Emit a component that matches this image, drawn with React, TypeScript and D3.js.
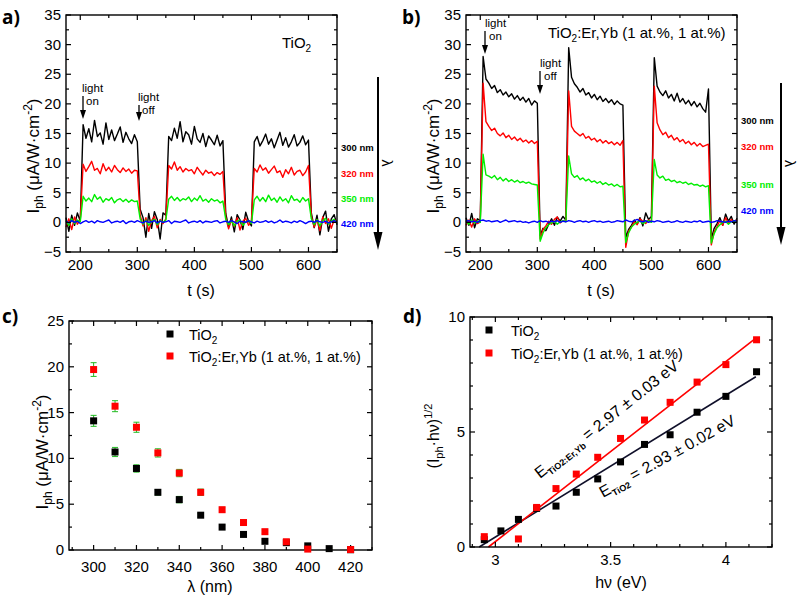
import React from 'react';
import * as d3 from 'd3';

const FONT = "'Liberation Sans', Arial, Helvetica, sans-serif";
const BLACK = '#000000';
const RED = '#ff0000';
const GREEN = '#00ee00';
const BLUE = '#0000ff';

// ---------- panels a/b: time traces (t grid every 5 s, 175..650 s) ----------
const tGrid = d3.range(175, 651, 5);

const a300 = [
  0.8, -1.5, 1.2, -0.5, 1.6, 0.2,
  16.5, 14.2, 15.8, 13.6, 17.2, 14.5, 15.1, 13.2, 16.8, 14.0, 15.6, 13.8, 14.9, 16.1, 13.5, 15.2, 14.1, 13.3, 14.8, 13.6,
  2.2, 0.8, -2.5, 1.5, -1.0, 1.8, 0.5, -2.8, 1.6, 1.2,
  14.5, 13.8, 15.9, 14.2, 17.0, 13.6, 15.3, 14.8, 13.2, 16.2, 14.1, 13.5, 15.0, 12.8, 14.6, 13.9, 13.1, 14.7, 12.9, 13.8,
  1.5, -0.8, 0.9, -1.6, 1.3, 0.4, -1.2, 1.7, 0.2, -0.6,
  13.6, 14.5, 12.9, 13.8, 14.9, 13.2, 14.1, 12.6, 13.9, 15.2, 13.0, 14.3, 12.7, 13.6, 14.8, 12.9, 13.5, 14.6, 13.1, 13.9,
  1.6, -0.9, 1.2, -2.1, 0.8, 1.9, -1.5, 0.6, 1.3, -0.4,
];
const a320 = [
  -0.8, 0.6, -1.2, 0.9, -0.3, 0.4,
  9.8, 8.6, 9.4, 10.3, 8.8, 9.1, 8.2, 9.9, 8.7, 9.3, 8.5, 9.6, 8.9, 8.4, 9.2, 8.6, 9.0, 8.3, 8.8, 8.7,
  1.2, -0.6, 0.8, -1.5, 0.3, 1.0, -0.9, 0.5, -0.2, 0.6,
  9.6, 9.0, 10.2, 8.8, 9.4, 8.5, 9.1, 8.7, 8.9, 8.2, 9.3, 8.6, 8.0, 8.8, 8.3, 8.5, 7.9, 8.4, 8.1, 8.6,
  0.9, -1.1, 0.4, -0.7, 0.8, -1.3, 0.2, 0.7, -0.5, 0.3,
  9.1, 8.5, 9.7, 8.8, 9.2, 8.3, 8.9, 9.5, 8.4, 8.7, 7.6, 8.9, 8.2, 9.3, 8.0, 8.6, 8.8, 7.9, 8.5, 9.6,
  1.1, -0.8, 0.5, -1.4, 0.9, -0.2, 0.6, -1.0, 0.4, 0.2,
];
const a350 = [
  0.3, -0.5, 0.6, -0.2, 0.4, 0.1,
  4.4, 3.6, 4.1, 3.5, 4.7, 3.9, 4.3, 3.4, 4.0, 3.7, 4.2, 3.3, 3.8, 4.0, 3.5, 3.9, 3.4, 3.8, 3.5, 3.6,
  0.6, -0.3, 0.4, -0.5, 0.2, 0.5, -0.4, 0.3, 0.0, 0.4,
  3.9, 4.4, 3.7, 4.2, 3.6, 4.0, 3.8, 4.3, 3.5, 4.1, 3.7, 4.5, 3.6, 3.9, 3.4, 4.0, 3.6, 3.8, 3.3, 3.6,
  0.5, -0.4, 0.3, -0.6, 0.2, 0.4, -0.5, 0.1, 0.3, -0.2,
  3.8, 4.4, 3.6, 4.2, 3.5, 4.6, 3.7, 4.1, 3.4, 4.3, 3.6, 4.0, 3.3, 4.5, 3.7, 3.9, 3.4, 4.2, 3.6, 4.0,
  0.6, -0.4, 0.5, -0.6, 0.3, 0.7, -0.3, 0.2, 0.5, -0.1,
];
const a420 = [
  0.2, -0.1, 0.3, 0.0, 0.2, -0.2, 0.1, 0.3, 0.0, 0.2,
  -0.1, 0.3, 0.1, 0.0, 0.2, 0.4, -0.1, 0.1, 0.2, 0.0,
  0.3, -0.2, 0.1, 0.2, 0.0, 0.3, 0.1, -0.1, 0.2, 0.0,
  0.1, 0.3, -0.1, 0.2, 0.0, 0.1, 0.3, -0.2, 0.2, 0.1,
  0.0, 0.2, 0.4, -0.1, 0.1, 0.2, 0.0, 0.3, -0.1, 0.2,
  0.1, 0.0, 0.2, 0.3, -0.1, 0.1, 0.2, 0.0, 0.3, 0.1,
  -0.2, 0.2, 0.1, 0.0, 0.3, 0.1, -0.1, 0.2, 0.0, 0.1,
  0.3, 0.0, 0.2, -0.1, 0.1, 0.4, 0.0, 0.2, 0.1, -0.1,
  0.2, 0.0, 0.3, 0.1, -0.2, 0.1, 0.2, 0.0, 0.3, 0.1,
  0.0, 0.2, -0.1, 0.1, 0.3, 0.0,
];

const b300 = [
  0.8, -0.5, 1.5, -0.9, 0.6, 0.3,
  28.0, 24.2, 23.5, 22.6, 23.1, 21.9, 22.4, 21.5, 22.0, 21.2, 21.7, 20.8, 21.4, 20.6, 21.1, 20.3, 20.9, 19.8, 20.5, 20.1,
  -2.2, -1.0, -1.4, -0.3, 0.6, -0.5, 0.9, 0.2, 1.0, 0.4,
  29.5, 24.5, 23.4, 22.8, 22.0, 22.6, 21.5, 21.9, 21.0, 21.6, 20.7, 21.3, 20.4, 20.9, 20.2, 20.7, 19.9, 20.5, 20.0, 19.8,
  -2.6, -1.2, -0.5, 0.4, -0.3, 0.8, -0.6, 1.6, 0.5, 1.0,
  27.8, 23.0, 22.0, 21.4, 22.2, 21.0, 21.6, 20.5, 21.8, 20.3, 20.9, 20.0, 20.6, 19.7, 20.4, 19.5, 20.1, 19.2, 18.6, 22.5,
  -2.8, -1.0, -0.2, 0.8, -0.5, 1.4, 0.2, 1.0, -0.3, 0.7,
];
const b320 = [
  -0.5, 0.4, -0.8, 0.6, -0.2, 0.1,
  23.5, 17.0, 16.2, 15.5, 15.9, 15.0, 14.6, 15.1, 14.3, 14.7, 14.0, 14.4, 13.8, 14.2, 13.6, 13.9, 13.4, 13.8, 13.3, 13.7,
  -2.8, -1.2, -0.6, 0.2, -0.3, 0.5, 0.9, -0.1, 0.3, 0.2,
  22.2, 16.2, 15.4, 15.0, 14.6, 15.0, 14.2, 14.5, 13.9, 14.2, 13.6, 14.0, 13.4, 13.8, 13.3, 13.6, 13.1, 13.5, 13.0, 13.8,
  -4.2, -1.5, -0.8, 0.1, -0.4, 0.6, 0.2, -0.2, 0.4, 0.1,
  23.0, 16.8, 15.6, 14.8, 15.2, 14.3, 14.7, 13.9, 14.3, 13.6, 14.0, 13.3, 13.7, 13.1, 13.5, 12.9, 13.3, 12.8, 13.0, 13.2,
  -3.8, -1.6, -0.7, 0.3, -0.5, 0.8, -0.2, 0.5, 0.0, 0.4,
];
const b350 = [
  0.2, -0.3, 0.4, -0.1, 0.2, 0.0,
  11.5, 8.0, 7.8, 7.5, 7.9, 7.2, 7.6, 7.0, 7.4, 6.9, 7.2, 6.8, 7.1, 6.7, 6.9, 6.6, 6.8, 6.5, 6.4, 6.3,
  -3.2, -1.8, -0.9, -0.4, -0.1, 0.2, -0.3, 0.1, 0.3, 0.1,
  11.2, 8.2, 7.6, 7.9, 7.2, 7.5, 7.0, 7.3, 6.8, 7.0, 6.6, 6.9, 6.4, 6.7, 6.3, 6.5, 6.1, 6.4, 6.0, 6.1,
  -3.4, -1.8, -0.8, -0.3, 0.0, 0.2, -0.2, 0.1, 0.3, 0.0,
  10.6, 8.0, 7.5, 7.8, 7.1, 7.3, 6.9, 7.1, 6.7, 6.9, 6.6, 6.8, 6.4, 6.6, 6.3, 6.4, 6.1, 6.3, 6.0, 6.2,
  -3.5, -1.9, -0.9, -0.4, 0.0, 0.2, -0.3, 0.1, 0.2, 0.0,
];
const b420 = [
  0.2, 0.3, 0.1, 0.2, 0.0, 0.3, 0.4, 0.2, 0.3, 0.1,
  0.2, 0.3, 0.0, 0.2, 0.4, 0.1, 0.2, 0.3, 0.1, 0.2,
  0.0, 0.1, -0.1, 0.1, 0.2, 0.0, 0.3, 0.1, 0.2, 0.0,
  0.2, 0.1, 0.3, 0.0, 0.2, 0.1, 0.3, 0.2, 0.0, 0.2,
  0.3, 0.1, 0.2, 0.0, 0.2, 0.3, 0.1, 0.2, 0.0, 0.1,
  0.2, 0.0, 0.1, 0.3, 0.2, 0.1, 0.4, 0.2, 0.1, 0.3,
  0.5, 0.2, 0.1, 0.3, 0.0, 0.2, 0.1, 0.3, 0.2, 0.0,
  0.1, 0.2, 0.0, 0.1, 0.3, 0.1, 0.0, 0.2, 0.1, 0.0,
  0.2, 0.1, 0.3, 0.0, 0.1, 0.2, 0.0, 0.1, 0.3, 0.2,
  0.1, 0.0, 0.2, 0.1, 0.3, 0.2,
];

const traceColors = [BLACK, RED, GREEN, BLUE];
const traceLabels = ['300 nm', '320 nm', '350 nm', '420 nm'];

// ---------- panel c: photocurrent vs wavelength ----------
const lambdaNm = [300, 310, 320, 330, 340, 350, 360, 370, 380, 390, 400, 410, 420];
const cTiO2 = [14.1, 10.7, 8.9, 6.3, 5.5, 3.8, 2.5, 1.7, 0.95, 0.8, 0.45, 0.15, 0.03];
const cTiO2Err = [0.6, 0.5, 0.4, 0.3, 0.35, 0.2, 0.2, 0.15, 0.15, 0.15, 0.1, 0.1, 0.05];
const cErYb = [19.7, 15.7, 13.4, 10.6, 8.4, 6.3, 4.4, 3.0, 2.0, 0.9, 0.1, null, 0.05];
const cErYbErr = [0.75, 0.6, 0.55, 0.45, 0.4, 0.35, 0.25, 0.2, 0.2, 0.15, 0.1, null, 0.05];

// ---------- panel d: Tauc-type plot ----------
const hvTiO2 = [2.952, 3.024, 3.1, 3.179, 3.263, 3.351, 3.444, 3.543, 3.647, 3.758, 3.875, 4.0, 4.133];
const dTiO2 = [0.32, 0.7, 1.2, 1.68, 1.78, 2.38, 2.96, 3.7, 4.46, 4.88, 5.86, 6.55, 7.62];
const hvErYb = [2.952, 3.1, 3.179, 3.263, 3.351, 3.444, 3.543, 3.647, 3.758, 3.875, 4.0, 4.133];
const dErYb = [0.45, 0.35, 1.72, 2.54, 3.17, 3.9, 4.72, 5.52, 6.29, 7.17, 7.93, 9.01];
const fitEg = [2.93, 2.97];
const fitSlope = [6.17, 7.83];
const fitEnd = 4.13;

type Lin = d3.ScaleLinear<number, number>;

function Axes(props: {
  x: Lin; y: Lin; xMaj: number[]; xMin: number[]; yMaj: number[]; yMin: number[];
  xFmt?: (v: number) => string; yFmt?: (v: number) => string; xLabOff: number;
}) {
  const { x, y, xMaj, xMin, yMaj, yMin, xLabOff } = props;
  const xFmt = props.xFmt || ((v: number) => String(v));
  const yFmt = props.yFmt || ((v: number) => String(v));
  const [x0, x1] = x.range();
  const [y0, y1] = y.range(); // y0 = bottom, y1 = top
  const M = 5, m = 3;
  const ticks: JSX.Element[] = [];
  const tk = (key: string, a: number, b: number, c: number, d: number) =>
    ticks.push(<line key={key} x1={a} y1={b} x2={c} y2={d} stroke="#000" strokeWidth={1.2} />);
  xMaj.forEach((v, i) => { const px = x(v); tk('xb' + i, px, y0, px, y0 - M); tk('xt' + i, px, y1, px, y1 + M); });
  xMin.forEach((v, i) => { const px = x(v); tk('xbm' + i, px, y0, px, y0 - m); tk('xtm' + i, px, y1, px, y1 + m); });
  yMaj.forEach((v, i) => { const py = y(v); tk('yl' + i, x0, py, x0 + M, py); tk('yr' + i, x1, py, x1 - M, py); });
  yMin.forEach((v, i) => { const py = y(v); tk('ylm' + i, x0, py, x0 + m, py); tk('yrm' + i, x1, py, x1 - m, py); });
  return (
    <g>
      <rect x={x0} y={y1} width={x1 - x0} height={y0 - y1} fill="none" stroke="#000" strokeWidth={1.4} />
      {ticks}
      {xMaj.map((v, i) => (
        <text key={'xl' + i} x={x(v)} y={y0 + xLabOff} textAnchor="middle" fontSize={15} fontFamily={FONT}>{xFmt(v)}</text>
      ))}
      {yMaj.map((v, i) => (
        <text key={'yl' + i} x={x0 - 5} y={y(v) + 5} textAnchor="end" fontSize={15} fontFamily={FONT}>{yFmt(v).replace('-', '\u2212')}</text>
      ))}
    </g>
  );
}

function IphLabel({ cx, cy }: { cx: number; cy: number }) {
  return (
    <text transform={`translate(${cx},${cy}) rotate(-90)`} textAnchor="middle" fontSize={17} fontFamily={FONT}>
      I<tspan fontSize={12} dy={4}>ph</tspan><tspan dy={-4}> (μA/W·cm</tspan><tspan fontSize={12} dy={-7}>-2</tspan><tspan dy={7}>)</tspan>
    </text>
  );
}

function TracePanel(props: {
  ox: number; series: number[][]; title: JSX.Element; labelYs: number[];
  onTxt: [number, number]; onArrow: [number, number, number];
  offTxt: [number, number]; offArrow: [number, number, number]; letter: string; arrowX: number; arrowTop: number; arrowBot: number;
}) {
  const { ox, series } = props;
  const x = d3.scaleLinear().domain([175, 650]).range([ox + 66, ox + 337]);
  const y = d3.scaleLinear().domain([-5, 35]).range([252, 15]);
  const line = d3.line<number>().x((_, i) => x(tGrid[i])).y((d) => y(d));
  const arrowDown = (ax: number, y1: number, y2: number, key: string) => (
    <g key={key}>
      <line x1={ax} y1={y1} x2={ax} y2={y2 - 7} stroke="#000" strokeWidth={1.3} />
      <polygon points={`${ax - 3},${y2 - 9} ${ax + 3},${y2 - 9} ${ax},${y2}`} fill="#000" />
    </g>
  );
  return (
    <g>
      <text x={ox + 2} y={24} fontSize={19} fontWeight="bold" fontFamily="'Open Sans', sans-serif">{props.letter}</text>
      {series.map((s, i) => (
        <path key={i} d={line(s) || ''} fill="none" stroke={traceColors[i]} strokeWidth={1.4} strokeLinejoin="round" />
      ))}
      <Axes x={x} y={y} xMaj={[200, 300, 400, 500, 600]} xMin={[250, 350, 450, 550, 650]}
        yMaj={d3.range(-5, 36, 5)} yMin={d3.range(-2.5, 33, 5)} xLabOff={18} />
      <IphLabel cx={ox + 39} cy={156} />
      <text x={ox + 201} y={296} textAnchor="middle" fontSize={16} fontFamily={FONT}>t (s)</text>
      {props.title}
      <text x={props.onTxt[0]} y={props.onTxt[1]} fontSize={11.5} fontFamily={FONT}>light</text>
      <text x={props.onTxt[0] + 4} y={props.onTxt[1] + 13} fontSize={11.5} fontFamily={FONT}>on</text>
      {arrowDown(props.onArrow[0], props.onArrow[1], props.onArrow[2], 'on')}
      <text x={props.offTxt[0]} y={props.offTxt[1]} fontSize={11.5} fontFamily={FONT}>light</text>
      <text x={props.offTxt[0] + 4} y={props.offTxt[1] + 13} fontSize={11.5} fontFamily={FONT}>off</text>
      {arrowDown(props.offArrow[0], props.offArrow[1], props.offArrow[2], 'off')}
      {traceLabels.map((t, i) => (
        <text key={t} x={ox + 341} y={props.labelYs[i] + 3.5} fontSize={9.5} fontWeight="bold" fill={traceColors[i]} fontFamily={FONT}>{t}</text>
      ))}
      <line x1={props.arrowX} y1={props.arrowTop} x2={props.arrowX} y2={props.arrowBot - 14} stroke="#000" strokeWidth={2} />
      <polygon points={`${props.arrowX - 4.5},${props.arrowBot - 18} ${props.arrowX + 4.5},${props.arrowBot - 18} ${props.arrowX},${props.arrowBot}`} fill="#000" />
      <text transform={`translate(${props.arrowX + 4},${(props.arrowTop + props.arrowBot) / 2 - 4}) rotate(90)`} fontSize={14} fontFamily={FONT}>λ</text>
    </g>
  );
}

function PanelC() {
  const x = d3.scaleLinear().domain([288.5, 430]).range([69, 372]);
  const y = d3.scaleLinear().domain([0, 25]).range([550, 321]);
  const s = 7;
  const pts = (vals: (number | null)[], errs: (number | null)[], color: string, key: string) =>
    lambdaNm.map((l, i) => {
      const v = vals[i]; const e = errs[i];
      if (v == null || e == null) return null;
      const cx = x(l), cy = y(v);
      return (
        <g key={key + i}>
          <line x1={cx} y1={y(v + e)} x2={cx} y2={y(v - e)} stroke="#22bb22" strokeWidth={1} />
          <line x1={cx - 3} y1={y(v + e)} x2={cx + 3} y2={y(v + e)} stroke="#22bb22" strokeWidth={1} />
          <line x1={cx - 3} y1={y(v - e)} x2={cx + 3} y2={y(v - e)} stroke="#22bb22" strokeWidth={1} />
          <rect x={cx - s / 2} y={cy - s / 2} width={s} height={s} fill={color} />
        </g>
      );
    });
  return (
    <g>
      <text x={2} y={323} fontSize={19} fontWeight="bold" fontFamily="'Open Sans', sans-serif">c)</text>
      <Axes x={x} y={y} xMaj={d3.range(300, 421, 20)} xMin={d3.range(290, 431, 20)}
        yMaj={d3.range(0, 26, 5)} yMin={d3.range(2.5, 25, 5)} xLabOff={22} />
      {pts(cTiO2, cTiO2Err, BLACK, 'k')}
      {pts(cErYb, cErYbErr, RED, 'r')}
      <rect x={170 - 3.5} y={334 - 3.5} width={7} height={7} fill={BLACK} />
      <text x={189} y={340} fontSize={14.5} fontFamily={FONT}>TiO<tspan fontSize={10} dy={4}>2</tspan></text>
      <rect x={170 - 3.5} y={356 - 3.5} width={7} height={7} fill={RED} />
      <text x={189} y={362} fontSize={14.5} fontFamily={FONT}>TiO<tspan fontSize={10} dy={4}>2</tspan><tspan dy={-4}>:Er,Yb (1 at.%, 1 at.%)</tspan></text>
      <IphLabel cx={48} cy={452} />
      <text x={210} y={592} textAnchor="middle" fontSize={16} fontFamily={FONT}>λ (nm)</text>
    </g>
  );
}

function PanelD() {
  const x = d3.scaleLinear().domain([2.89, 4.2]).range([470, 772]);
  const y = d3.scaleLinear().domain([0, 10]).range([547, 317]);
  const s = 7;
  const minorX = d3.range(2.9, 4.21, 0.1).map((v) => Math.round(v * 10) / 10).filter((v) => Math.abs(v * 2 - Math.round(v * 2)) > 1e-6);
  const fitLines = fitEg.map((eg, i) => (
    <line key={'fit' + i} x1={x(eg)} y1={y(0)} x2={x(fitEnd)} y2={y(fitSlope[i] * (fitEnd - eg))}
      stroke={i === 0 ? '#10102a' : RED} strokeWidth={1.6} />
  ));
  return (
    <g>
      <text x={403} y={323} fontSize={19} fontWeight="bold" fontFamily="'Open Sans', sans-serif">d)</text>
      {fitLines}
      {hvTiO2.map((h, i) => (
        <rect key={'k' + i} x={x(h) - s / 2} y={y(dTiO2[i]) - s / 2} width={s} height={s} fill={BLACK} />
      ))}
      {hvErYb.map((h, i) => (
        <rect key={'r' + i} x={x(h) - s / 2} y={y(dErYb[i]) - s / 2} width={s} height={s} fill={RED} />
      ))}
      <Axes x={x} y={y} xMaj={[3, 3.5, 4]} xMin={minorX}
        yMaj={[0, 5, 10]} yMin={[1, 2, 3, 4, 6, 7, 8, 9]} xLabOff={18} />
      <rect x={489 - 3.5} y={330 - 3.5} width={7} height={7} fill={BLACK} />
      <text x={511} y={336} fontSize={14.5} fontFamily={FONT}>TiO<tspan fontSize={10} dy={4}>2</tspan></text>
      <rect x={489 - 3.5} y={353 - 3.5} width={7} height={7} fill={RED} />
      <text x={511} y={359} fontSize={14.5} fontFamily={FONT}>TiO<tspan fontSize={10} dy={4}>2</tspan><tspan dy={-4}>:Er,Yb (1 at.%, 1 at.%)</tspan></text>
      <text transform="translate(540,479) rotate(-38.5)" fontSize={16} fontFamily={FONT}>
        E<tspan fontSize={9} dy={4} fontWeight="bold">TiO2:Er,Yb</tspan><tspan dy={-4}> = 2.97 ± 0.03 eV</tspan>
      </text>
      <text transform="translate(603,498) rotate(-29)" fontSize={16} fontFamily={FONT}>
        E<tspan fontSize={9} dy={4} fontWeight="bold">TiO2</tspan><tspan dy={-4}> = 2.93 ± 0.02 eV</tspan>
      </text>
      <text transform="translate(439,436) rotate(-90)" textAnchor="middle" fontSize={16} fontFamily={FONT}>
        (I<tspan fontSize={11} dy={4}>ph</tspan><tspan dy={-4}>·hν)</tspan><tspan fontSize={11} dy={-7}>1/2</tspan>
      </text>
      <text x={621} y={588} textAnchor="middle" fontSize={16} fontFamily={FONT}>hν (eV)</text>
    </g>
  );
}

export default function App() {
  const titleA = (
    <text x={282} y={48} fontSize={15} fontFamily={FONT}>TiO<tspan fontSize={10} dy={4}>2</tspan></text>
  );
  const titleB = (
    <text x={548} y={38} fontSize={15} fontFamily={FONT}>TiO<tspan fontSize={10} dy={4}>2</tspan><tspan dy={-4}>:Er,Yb (1 at.%, 1 at.%)</tspan></text>
  );
  return (
    <svg width={798} height={596} style={{ position: 'absolute', left: 0, top: 0, background: '#fff' }}>
      <rect x={0} y={0} width={798} height={596} fill="#fff" />
      <TracePanel ox={0} series={[a300, a320, a350, a420]} title={titleA} letter="a)"
        labelYs={[147, 173, 198, 223]}
        onTxt={[82, 92]} onArrow={[83, 96, 119]} offTxt={[138, 101]} offArrow={[139, 105, 121]}
        arrowX={378} arrowTop={77} arrowBot={250} />
      <TracePanel ox={400} series={[b300, b320, b350, b420]} title={titleB} letter="b)"
        labelYs={[120, 146, 184, 210]}
        onTxt={[485, 27]} onArrow={[485, 31, 54]} offTxt={[540, 67]} offArrow={[540, 71, 94]}
        arrowX={781} arrowTop={83} arrowBot={245} />
      <PanelC />
      <PanelD />
    </svg>
  );
}
